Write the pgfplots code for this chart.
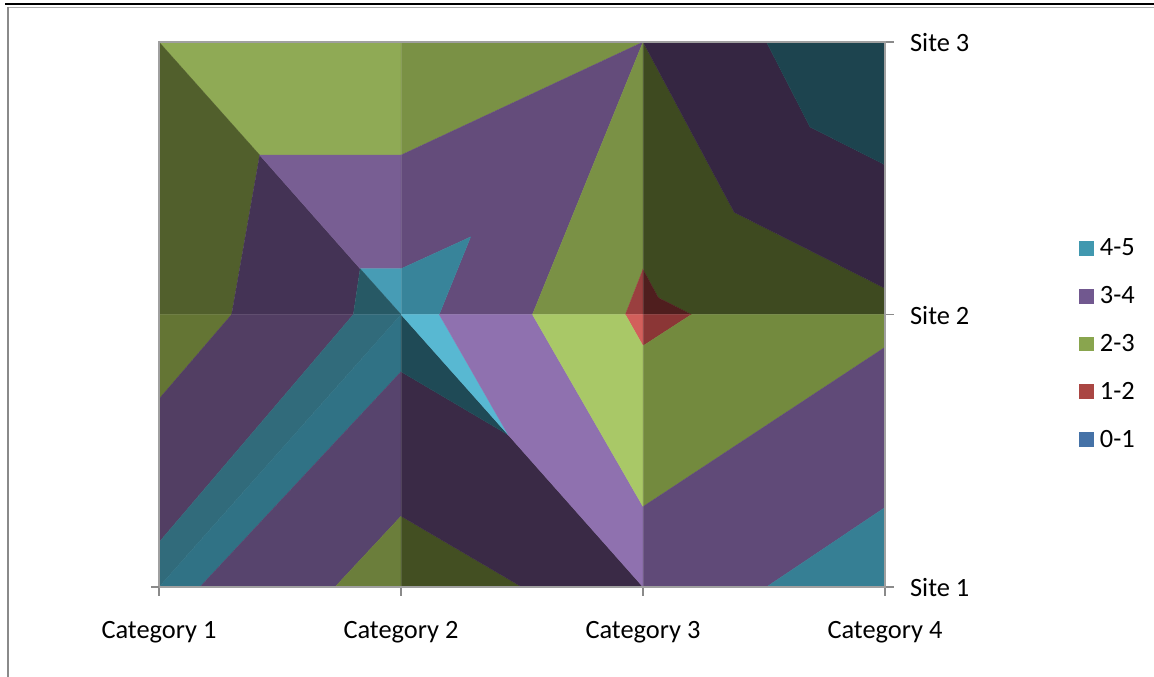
\documentclass[border=0pt]{standalone}
\usepackage{fontspec}
\setmainfont{Carlito}
\usepackage{pgfplots}
\pgfplotsset{compat=1.18}

\definecolor{axisgray}{HTML}{8A8A8A}
\definecolor{framegray}{HTML}{A0A0A0}
% one filled band of the top-view surface, corners in category/site units
\newcommand{\band}[2]{\xglobal\definecolor{c#1}{HTML}{#1}\addplot[fill=c#1,draw=c#1,line width=.15pt,forget plot] coordinates {#2} -- cycle;}
\definecolor{leg45}{HTML}{4198AF}
\definecolor{leg34}{HTML}{71588F}
\definecolor{leg23}{HTML}{89A54E}
\definecolor{leg12}{HTML}{AA4643}
\definecolor{leg01}{HTML}{4572A7}

\begin{document}
\begin{tikzpicture}[x=0.75pt,y=0.75pt]
  \path[use as bounding box] (0,0) rectangle (1154,677);
  % page rules around the chart
  \draw[black,line width=1.5pt] (5,673) -- (1154,673);
  \draw[axisgray!70,line width=.6pt] (8,669.5) -- (1154,669.5);
  \draw[axisgray,line width=1.7pt] (8,670) -- (8,0);

  \begin{axis}[
    at={(119.25pt,67.5pt)},
    anchor=south west,
    scale only axis,
    width=544.5pt,
    height=408.75pt,
    xmin=0, xmax=3,
    ymin=0, ymax=2,
    xtick={0,1,2,3},
    xticklabels={Category 1,Category 2,Category 3,Category 4},
    ytick={0,1,2},
    yticklabels={Site 1,Site 2,Site 3},
    ytick pos=right,
    yticklabel pos=right,
    xtick pos=bottom,
    tick align=outside,
    major tick length=6.5pt,
    tick style={axisgray,line width=1.2pt},
    axis line style={framegray,line width=.8pt},
    axis on top,
    xmajorgrids=true,
    grid style={white,opacity=.12,line width=.7pt},
    tick label style={font=\fontsize{19.8}{23}\selectfont},
    xticklabel style={yshift=-15.5pt},
    yticklabel style={xshift=8.8pt,yshift=-.6pt},
    legend style={at={(1.267,0.639)},anchor=north west,draw=none,fill=none,
      row sep=21.5pt,inner sep=0pt,font=\fontsize{19.8}{23}\selectfont,
      nodes={inner sep=0pt}},
    legend cell align=left,
    legend image code/.code={\path[#1,draw=none] (0pt,-5.6pt) rectangle (11.25pt,5.6pt);
      \path (15.4pt,0pt) rectangle (15.4pt,0pt);},
  ]
  % upper left
  \band{8FAA55}{(0,2) (1,2) (1,1.585) (0.416,1.585)}
  \band{7A9145}{(1,2) (2,2) (1,1.585)}
  \band{515F2C}{(0,2) (0.416,1.585) (0.30,1) (0,1)}
  \band{443355}{(0.416,1.585) (0.831,1.168) (0.803,1) (0.30,1)}
  \band{785E93}{(0.416,1.585) (1,1.585) (1,1.168) (0.831,1.168)}
  \band{644C7B}{(1,1.585) (2,2) (1.543,1) (1.158,1) (1.288,1.285) (1,1.168)}
  \band{38849A}{(1,1.168) (1.288,1.285) (1.158,1) (1,1)}
  \band{479CB5}{(0.831,1.168) (1,1.168) (1,1)}
  \band{275965}{(0.831,1.168) (1,1) (0.803,1)}
  % upper right
  \band{7A9145}{(2,2) (2,1.166) (1.927,1) (1.543,1)}
  \band{3E4A20}{(2,2) (2,1.166) (2.063,1.062) (2.2,1) (3,1) (3,1.096) (2.377,1.375)}
  \band{352642}{(2,2) (2.51,2) (2.69,1.688) (3,1.549) (3,1.096) (2.377,1.375)}
  \band{1D444F}{(2.51,2) (3,2) (3,1.549) (2.69,1.688)}
  \band{9A3F3F}{(2,1.166) (1.927,1) (2,1)}
  \band{4F1E1E}{(2,1.166) (2.063,1.062) (2.2,1) (2,1)}
  \band{D25F5B}{(1.927,1) (2,1) (2,0.885)}
  \band{8B3636}{(2,1) (2.2,1) (2,0.885)}
  % lower left
  \band{647534}{(0,1) (0.30,1) (0,0.69)}
  \band{523E63}{(0.30,1) (0.803,1) (0,0.164) (0,0.69)}
  \band{316B7B}{(0.803,1) (1,1) (0,0) (0,0.164)}
  \band{307285}{(1,1) (1,0.79) (0.169,0) (0,0)}
  \band{57446D}{(1,0.79) (1,0.26) (0.727,0) (0.169,0)}
  \band{6B7E3B}{(0.727,0) (1,0.26) (1,0)}
  % lower middle and right
  \band{434F22}{(1,0.26) (1,0) (1.499,0)}
  \band{3A2A46}{(1,0.79) (1.443,0.558) (2,0) (1.499,0) (1,0.26)}
  \band{1F4A56}{(1,1) (1.443,0.558) (1,0.79)}
  \band{58B8D2}{(1,1) (1.158,1) (1.443,0.558)}
  \band{8F71AF}{(1.158,1) (1.543,1) (2,0.295) (2,0) (1.443,0.558)}
  \band{A9C867}{(1.543,1) (1.927,1) (2,0.885) (2,0.295)}
  \band{738A3E}{(2,0.885) (2.2,1) (3,1) (3,0.88) (2,0.295)}
  \band{604A78}{(2,0.295) (3,0.88) (3,0.292) (2.51,0) (2,0)}
  \band{367F94}{(2.51,0) (3,0.292) (3,0)}

  \addlegendimage{fill=leg45}\addlegendentry{4-5}
  \addlegendimage{fill=leg34}\addlegendentry{3-4}
  \addlegendimage{fill=leg23}\addlegendentry{2-3}
  \addlegendimage{fill=leg12}\addlegendentry{1-2}
  \addlegendimage{fill=leg01}\addlegendentry{0-1}
  \end{axis}
  % tick of the depth axis at the front corner
  \draw[axisgray,line width=1.2pt] (151,90) -- (159,90);
\end{tikzpicture}
\end{document}
